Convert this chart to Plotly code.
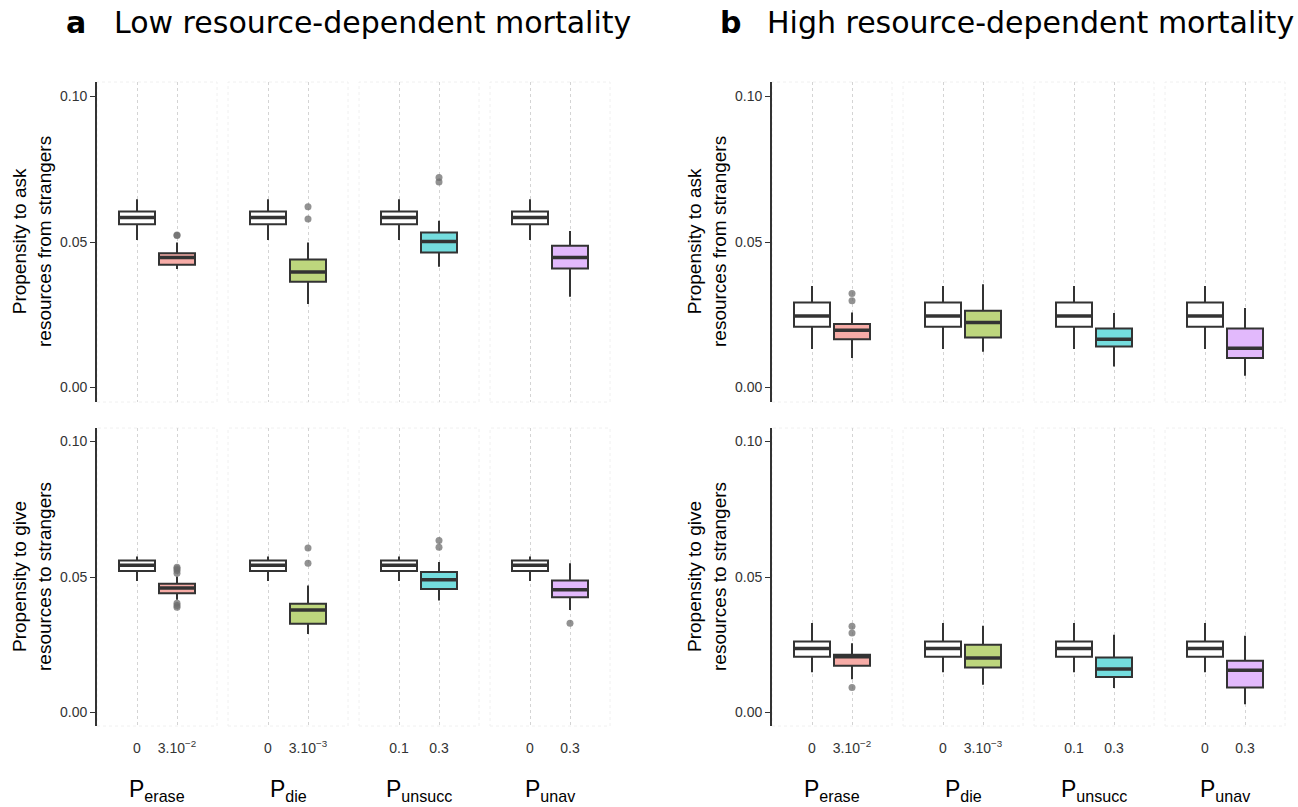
import plotly.graph_objects as go

# Facet groups (parameter varied) and their two levels
FACETS = ["erase", "die", "unsucc", "unav"]
BASE_LABELS = ["0", "0", "0.1", "0"]
TREAT_LABELS = ["3.10<sup>\u22122</sup>", "3.10<sup>\u22123</sup>", "0.3", "0.3"]
TREAT_COLORS = ["#F7ACA7", "#BDD67D", "#74DDDE", "#E2B9FC"]

# Box statistics: [lower whisker, q1, median, q3, upper whisker]
LOW_ASK_BASE = [0.0507, 0.0561, 0.0584, 0.0605, 0.0647]
LOW_ASK_TREAT = [
    [0.0407, 0.0422, 0.0447, 0.0461, 0.0498],
    [0.0287, 0.0363, 0.0397, 0.0440, 0.0498],
    [0.0415, 0.0464, 0.0502, 0.0533, 0.0573],
    [0.0312, 0.0409, 0.0447, 0.0487, 0.0538],
]
LOW_ASK_OUT = [[0.0524, 0.0522], [0.0579, 0.0621], [0.0706, 0.0722], []]

LOW_GIVE_BASE = [0.0485, 0.0522, 0.0543, 0.0561, 0.0576]
LOW_GIVE_TREAT = [
    [0.0416, 0.0440, 0.0459, 0.0475, 0.0502],
    [0.0290, 0.0327, 0.0378, 0.0401, 0.0469],
    [0.0413, 0.0456, 0.0490, 0.0518, 0.0555],
    [0.0378, 0.0425, 0.0453, 0.0487, 0.0551],
]
LOW_GIVE_OUT = [[0.0536, 0.0530, 0.0524, 0.0514, 0.0403, 0.0395, 0.0388],
                [0.0607, 0.0551], [0.0635, 0.0610], [0.0329]]

HIGH_ASK_BASE = [0.0132, 0.0209, 0.0246, 0.0292, 0.0349]
HIGH_ASK_TREAT = [
    [0.0101, 0.0166, 0.0197, 0.0218, 0.0258],
    [0.0123, 0.0172, 0.0223, 0.0264, 0.0355],
    [0.0072, 0.0141, 0.0166, 0.0203, 0.0256],
    [0.0040, 0.0101, 0.0135, 0.0203, 0.0273],
]
HIGH_ASK_OUT = [[0.0323, 0.0298], [], [], []]

HIGH_GIVE_BASE = [0.0148, 0.0206, 0.0236, 0.0262, 0.0330]
HIGH_GIVE_TREAT = [
    [0.0123, 0.0172, 0.0206, 0.0213, 0.0255],
    [0.0102, 0.0166, 0.0201, 0.0250, 0.0320],
    [0.0090, 0.0131, 0.0160, 0.0203, 0.0287],
    [0.0030, 0.0092, 0.0156, 0.0191, 0.0283],
]
HIGH_GIVE_OUT = [[0.0318, 0.0293, 0.0092], [], [], []]

Y_TICKS = [0.0, 0.05, 0.10]
Y_TICK_TEXT = ["0.00", "0.05", "0.10"]
Y_TITLES = ["Propensity to ask<br>resources from strangers",
            "Propensity to give<br>resources to strangers"]
PANEL_LETTERS = ["a", "b"]
PANEL_TITLES = ["Low resource-dependent mortality", "High resource-dependent mortality"]

W, H = 1298, 807
BOX_W = 0.9
EDGE = "#333333"
SANS = "Liberation Sans, Arial, sans-serif"
TICK_FONT = dict(family=SANS, size=14, color="#333333")

panels = [
    [(LOW_ASK_BASE, LOW_ASK_TREAT, LOW_ASK_OUT), (LOW_GIVE_BASE, LOW_GIVE_TREAT, LOW_GIVE_OUT)],
    [(HIGH_ASK_BASE, HIGH_ASK_TREAT, HIGH_ASK_OUT), (HIGH_GIVE_BASE, HIGH_GIVE_TREAT, HIGH_GIVE_OUT)],
]

# pixel layout of facets and headings
panel_left = [97, 772]
facet_step = 131
facet_w = 120
row_px = [(82, 402), (428, 726)]
letter_x = [76, 730]
heading_x = [112, 765]

fig = go.Figure()
layout = {}
shapes = []
annotations = []


def add_box(xa, ya, pos, stats, fill):
    lo, q1, med, q3, hi = stats
    fig.add_trace(go.Box(
        x=[pos], q1=[q1], median=[med], q3=[q3], lowerfence=[lo], upperfence=[hi],
        width=BOX_W, whiskerwidth=0, boxpoints=False, fillcolor=fill,
        line=dict(color=EDGE, width=2), xaxis=xa, yaxis=ya, showlegend=False,
        hoverinfo="skip"))
    fig.add_trace(go.Scatter(
        x=[pos - BOX_W / 2, pos + BOX_W / 2], y=[med, med], mode="lines",
        line=dict(color=EDGE, width=3.5), xaxis=xa, yaxis=ya,
        showlegend=False, hoverinfo="skip"))


for p in range(2):
    for r in range(2):
        base, treat, outs = panels[p][r]
        top, bot = row_px[r]
        ydom = [1 - bot / H, 1 - top / H]
        for f in range(4):
            idx = p * 8 + r * 4 + f + 1
            xa = "x" if idx == 1 else f"x{idx}"
            ya = "y" if idx == 1 else f"y{idx}"
            xk = "xaxis" if idx == 1 else f"xaxis{idx}"
            yk = "yaxis" if idx == 1 else f"yaxis{idx}"
            x0 = panel_left[p] + f * facet_step
            xdom = [x0 / W, (x0 + facet_w) / W]

            layout[xk] = dict(
                domain=xdom, anchor=ya, range=[0, 3], tickmode="array",
                tickvals=[1, 2], ticktext=[BASE_LABELS[f], TREAT_LABELS[f]],
                showticklabels=(r == 1), ticks="outside" if r == 1 else "",
                ticklen=9, tickcolor="rgba(0,0,0,0)", tickfont=TICK_FONT,
                showgrid=True, gridcolor="#d4d4d4", griddash="dot", gridwidth=1,
                zeroline=False, showline=False, fixedrange=True)
            first = f == 0
            layout[yk] = dict(
                domain=ydom, anchor=xa, range=[-0.005, 0.105], tickmode="array",
                tickvals=Y_TICKS, ticktext=Y_TICK_TEXT, showticklabels=first,
                ticks="outside" if first else "", ticklen=5, tickwidth=1.2,
                tickcolor=EDGE, tickfont=TICK_FONT, showgrid=False, zeroline=False,
                showline=first, linecolor=EDGE, linewidth=1.8, fixedrange=True)

            # faint facet outline
            shapes.append(dict(type="rect", xref=f"{xa} domain", yref=f"{ya} domain",
                               x0=0, x1=1, y0=0, y1=1, layer="below",
                               line=dict(color="#f0f0f0", width=1, dash="dot")))

            add_box(xa, ya, 1, base, "white")
            add_box(xa, ya, 2, treat[f], TREAT_COLORS[f])
            if outs[f]:
                fig.add_trace(go.Scatter(
                    x=[2] * len(outs[f]), y=outs[f], mode="markers",
                    marker=dict(color="rgba(110,110,110,0.75)", size=7),
                    xaxis=xa, yaxis=ya, showlegend=False, hoverinfo="skip"))

            if r == 1:
                annotations.append(dict(
                    text=f"P<sub>{FACETS[f]}</sub>", xref="paper", yref="paper",
                    x=(x0 + facet_w / 2) / W, y=1 - 790 / H, xanchor="center",
                    yanchor="middle", showarrow=False,
                    font=dict(family=SANS, size=23, color="black")))

        # y-axis title for this row
        annotations.append(dict(
            text=Y_TITLES[r], xref="paper", yref="paper",
            x=(panel_left[p] - 65) / W, y=1 - (top + bot) / 2 / H,
            xanchor="center", yanchor="middle", textangle=-90, showarrow=False,
            font=dict(family=SANS, size=19, color="black")))

    # panel letter and heading
    annotations.append(dict(
        text=f"<b>{PANEL_LETTERS[p]}</b>", xref="paper", yref="paper",
        x=letter_x[p] / W, y=1 - 22 / H, xanchor="center", yanchor="middle",
        showarrow=False, font=dict(family="DejaVu Sans", size=30, color="black")))
    annotations.append(dict(
        text=PANEL_TITLES[p], xref="paper", yref="paper",
        x=heading_x[p] / W, y=1 - 22 / H, xanchor="left", yanchor="middle",
        showarrow=False, font=dict(family="DejaVu Sans", size=30, color="black")))

fig.update_layout(
    width=W, height=H, margin=dict(l=0, r=0, t=0, b=0),
    paper_bgcolor="white", plot_bgcolor="white",
    shapes=shapes, annotations=annotations, showlegend=False, **layout)

fig.write_html("out.html")
